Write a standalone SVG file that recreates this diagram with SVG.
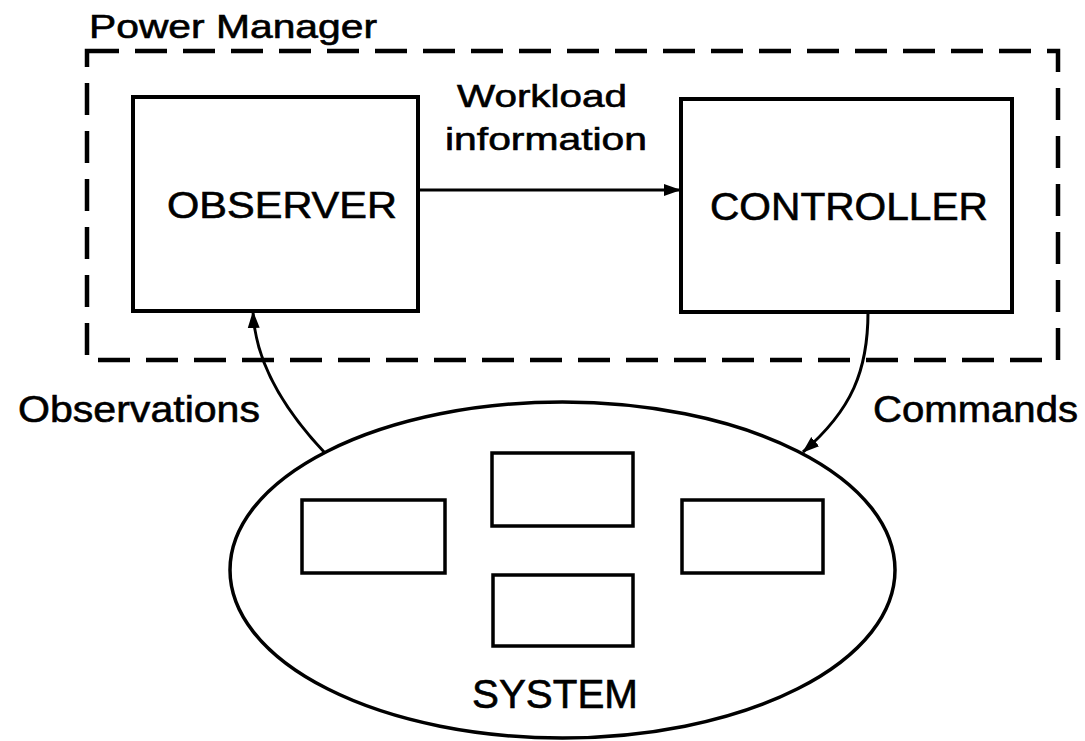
<svg xmlns="http://www.w3.org/2000/svg" width="1085" height="741" viewBox="0 0 1085 741">
<style>
.t{font-family:"Liberation Sans",Arial,Helvetica,sans-serif;fill:#000;stroke:#000;stroke-width:0.6}
.box{fill:none;stroke:#000;stroke-width:4}
.sm{fill:none;stroke:#000;stroke-width:3.5}
.ln{fill:none;stroke:#000;stroke-width:3}
.dash{fill:none;stroke:#000;stroke-width:4.5;stroke-dasharray:32 16}
</style>
<defs>
<marker id="ah" markerUnits="userSpaceOnUse" markerWidth="18" markerHeight="14" refX="16" refY="7" orient="auto">
<path d="M0,1 L17,7 L0,13 Z" fill="#000"/>
</marker>
</defs>
<g id="power-manager">
<rect class="dash" x="87" y="51" width="971" height="309"/>
<text class="t" x="89" y="38" font-size="33" textLength="288" lengthAdjust="spacingAndGlyphs">Power Manager</text>
</g>
<g id="observer">
<rect class="box" x="133" y="97" width="285" height="214"/>
<text class="t" x="167" y="218" font-size="37" textLength="230" lengthAdjust="spacingAndGlyphs">OBSERVER</text>
</g>
<g id="controller">
<rect class="box" x="681" y="99" width="331" height="213"/>
<text class="t" x="710" y="220" font-size="38" textLength="278" lengthAdjust="spacingAndGlyphs">CONTROLLER</text>
</g>
<g id="system">
<ellipse cx="562.5" cy="570" rx="332.5" ry="168" fill="none" stroke="#000" stroke-width="3.5"/>
<rect class="sm" x="302" y="500" width="143" height="73"/>
<rect class="sm" x="492" y="453" width="141" height="73"/>
<rect class="sm" x="493" y="575" width="140" height="71"/>
<rect class="sm" x="682" y="500" width="141" height="73"/>
<text class="t" x="472" y="708" font-size="40" textLength="166" lengthAdjust="spacingAndGlyphs">SYSTEM</text>
</g>
<g id="connectors">
<line class="ln" x1="418" y1="190" x2="680" y2="190" marker-end="url(#ah)"/>
<path class="ln" d="M325,453 Q256,380 253,312" marker-end="url(#ah)"/>
<path class="ln" d="M868,312 C868,370 852,410 803,452" marker-end="url(#ah)"/>
<text class="t" x="457" y="107" font-size="32" textLength="170" lengthAdjust="spacingAndGlyphs">Workload</text>
<text class="t" x="445" y="150" font-size="32" textLength="202" lengthAdjust="spacingAndGlyphs">information</text>
<text class="t" x="18" y="422" font-size="37" textLength="242" lengthAdjust="spacingAndGlyphs">Observations</text>
<text class="t" x="873" y="422" font-size="37" textLength="205" lengthAdjust="spacingAndGlyphs">Commands</text>
</g>
</svg>
